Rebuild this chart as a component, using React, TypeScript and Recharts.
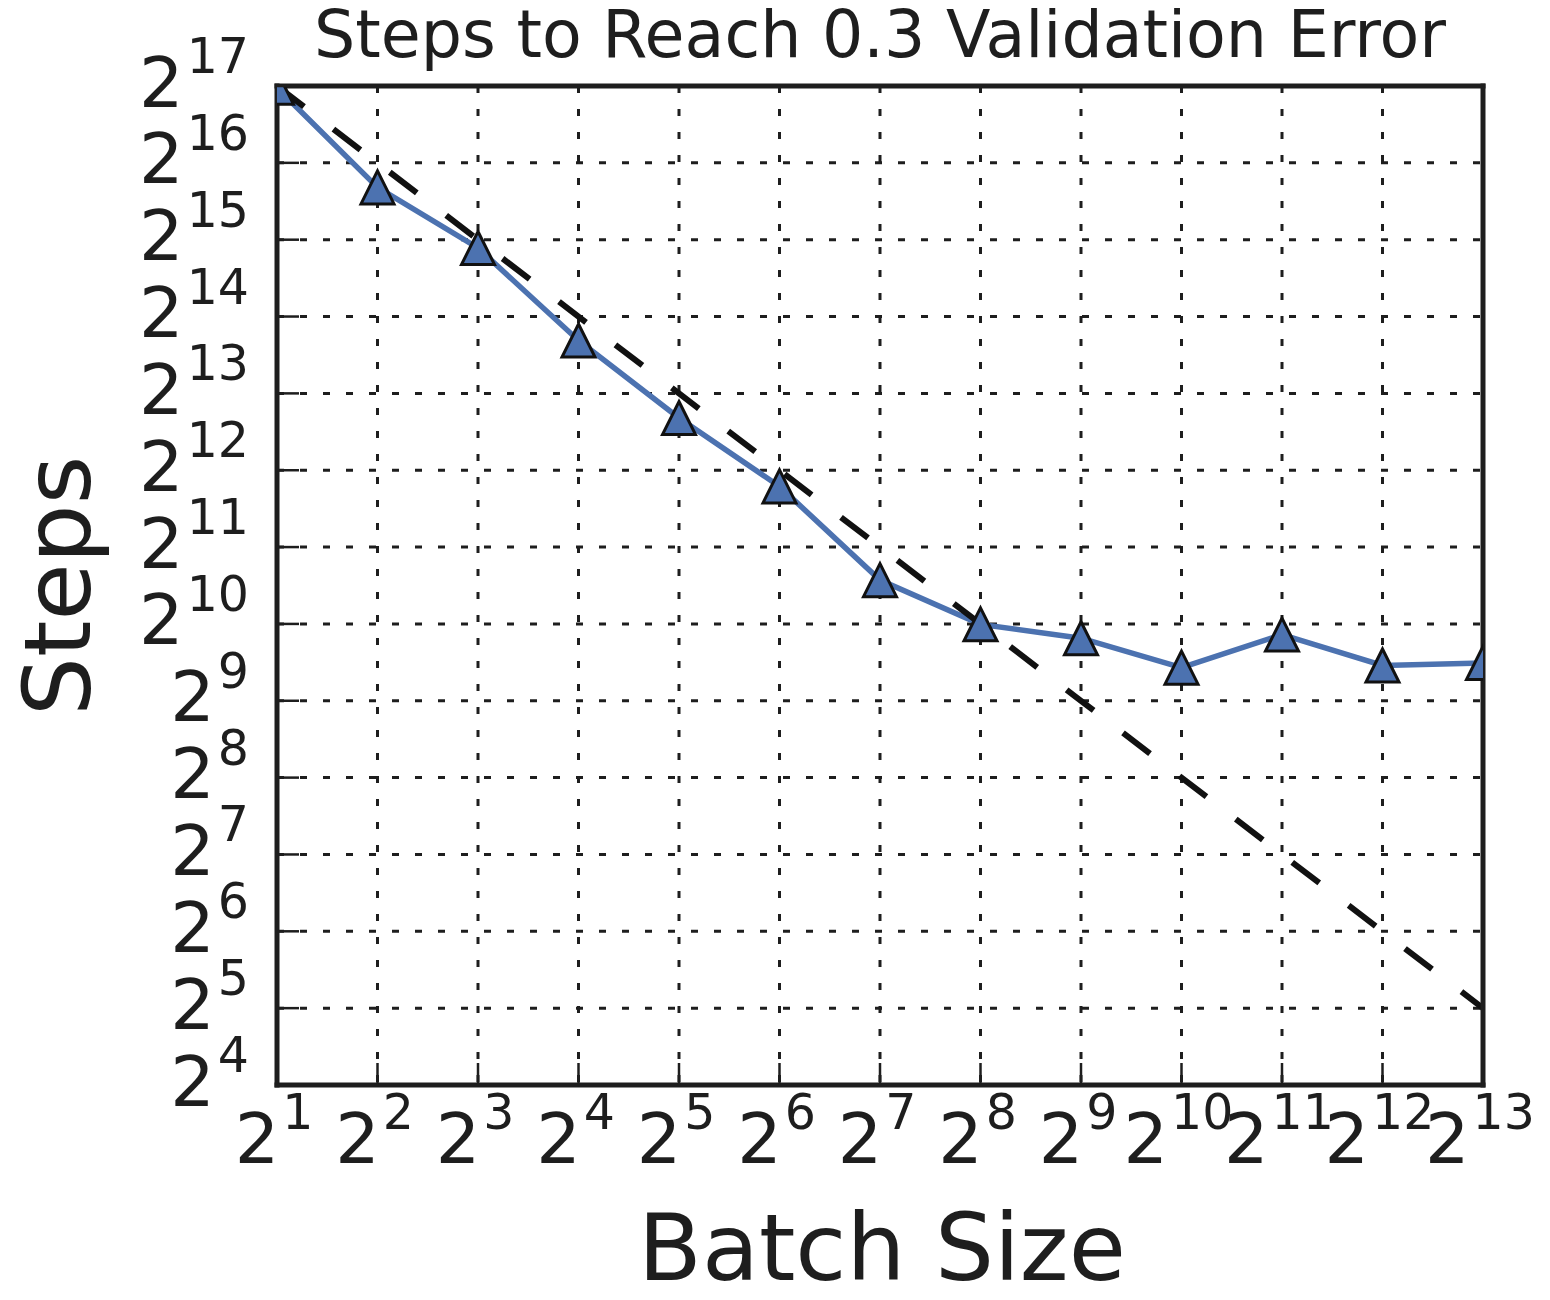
import React from 'react';
import { LineChart, Line, XAxis, YAxis, CartesianGrid, Customized } from 'recharts';

// batch sizes on the x axis (powers of two)
const BATCH_SIZES = [2, 4, 8, 16, 32, 64, 128, 256, 512, 1024, 2048, 4096, 8192];
const MEASURED_STEPS = [129000, 52500, 30400, 13200, 6560, 3540, 1520, 1020, 900, 690, 930, 704, 720];
// dashed reference: perfect linear scaling
const PERFECT_SCALING = [131072, 65536, 32768, 16384, 8192, 4096, 2048, 1024, 512, 256, 128, 64, 32];

const X_TICKS = [2, 4, 8, 16, 32, 64, 128, 256, 512, 1024, 2048, 4096, 8192];
const Y_TICKS = [16, 32, 64, 128, 256, 512, 1024, 2048, 4096, 8192, 16384, 32768, 65536, 131072];

const INK = '#1e1e1e';
const BLUE = '#4C72B0';
const FONT = '"DejaVu Sans", sans-serif';

const rows = BATCH_SIZES.map((batch, i) => ({
  batch,
  steps: MEASURED_STEPS[i],
  ideal: PERFECT_SCALING[i],
}));

const exponent = (v: number) => Math.round(Math.log2(v));

const XTick = (props: any) => {
  const { x, y, payload } = props;
  return (
    <g>
      <line x1={x} y1={y} x2={x} y2={y - 22} stroke={INK} strokeWidth={2.5} />
      <text x={x - 3} y={y + 78} textAnchor="middle" fill={INK} fontFamily={FONT} fontSize={70}>
        2<tspan dx={3} dy={-34} fontSize={49}>{exponent(payload.value)}</tspan>
      </text>
    </g>
  );
};

const YTick = (props: any) => {
  const { x, y, payload } = props;
  return (
    <g>
      <line x1={x} y1={y} x2={x + 22} y2={y} stroke={INK} strokeWidth={2.5} />
      <text x={x - 28} y={y + 20.5} textAnchor="end" fill={INK} fontFamily={FONT} fontSize={70}>
        2<tspan dx={3} dy={-33.5} fontSize={49}>{exponent(payload.value)}</tspan>
      </text>
    </g>
  );
};

const Triangle = (props: any) => {
  const { cx, cy, index } = props;
  if (cx == null || cy == null) return null;
  const h = 16.5;
  return (
    <path
      key={`tri-${index}`}
      d={`M${cx},${cy - h} L${cx + h},${cy + h} L${cx - h},${cy + h} Z`}
      fill={BLUE}
      stroke="#111"
      strokeWidth={3}
      strokeLinejoin="miter"
    />
  );
};

const Titles = () => (
  <g fill={INK} fontFamily={FONT}>
    <text x={872} y={49} textAnchor="middle" fontSize={65}>
      Steps to Reach 0.3 Validation Error
    </text>
    <text x={874} y={1272} textAnchor="middle" fontSize={93}>
      Batch Size
    </text>
    <text x={82} y={578} textAnchor="middle" fontSize={93} transform="rotate(-90, 82, 578)">
      Steps
    </text>
  </g>
);

const frame = { stroke: INK, strokeWidth: 5, strokeLinecap: 'square' as const };
const tickMark = { stroke: INK, strokeWidth: 2.5 };

export default function App() {
  return (
    <div style={{ width: 1540, height: 1290, background: '#fff' }}>
      <LineChart width={1540} height={1290} data={rows} margin={{ top: 78, right: 65, bottom: 0, left: 0 }}>
        <CartesianGrid
          stroke={INK}
          strokeWidth={3}
          strokeDasharray="7 16"
          vertical={{ strokeDashoffset: 20 } as any}
        />
        <XAxis
          dataKey="batch"
          type="number"
          scale="log"
          domain={[2, 8192]}
          ticks={X_TICKS}
          allowDataOverflow
          height={213}
          tickSize={0}
          tickMargin={0}
          tickLine={false}
          axisLine={frame}
          tick={<XTick />}
          interval={0}
        />
        <YAxis
          type="number"
          scale="log"
          domain={[16, 131072]}
          ticks={Y_TICKS}
          allowDataOverflow
          width={269}
          tickSize={0}
          tickMargin={0}
          tickLine={false}
          axisLine={frame}
          tick={<YTick />}
          interval={0}
        />
        <XAxis
          xAxisId="top"
          orientation="top"
          type="number"
          scale="log"
          domain={[2, 8192]}
          ticks={X_TICKS}
          allowDataOverflow
          mirror
          tickSize={22}
          tick={false}
          tickLine={tickMark}
          axisLine={frame}
          interval={0}
        />
        <YAxis
          yAxisId="right"
          orientation="right"
          type="number"
          scale="log"
          domain={[16, 131072]}
          ticks={Y_TICKS}
          allowDataOverflow
          mirror
          tickSize={22}
          tick={false}
          tickLine={tickMark}
          axisLine={frame}
          interval={0}
        />
        <Line
          dataKey="steps"
          stroke={BLUE}
          strokeWidth={5.5}
          dot={Triangle}
          activeDot={false}
          isAnimationActive={false}
        />
        <Line
          dataKey="ideal"
          stroke="#111"
          strokeWidth={6}
          strokeDasharray="34 37"
          dot={false}
          activeDot={false}
          isAnimationActive={false}
        />
        <Customized component={Titles} />
      </LineChart>
    </div>
  );
}
